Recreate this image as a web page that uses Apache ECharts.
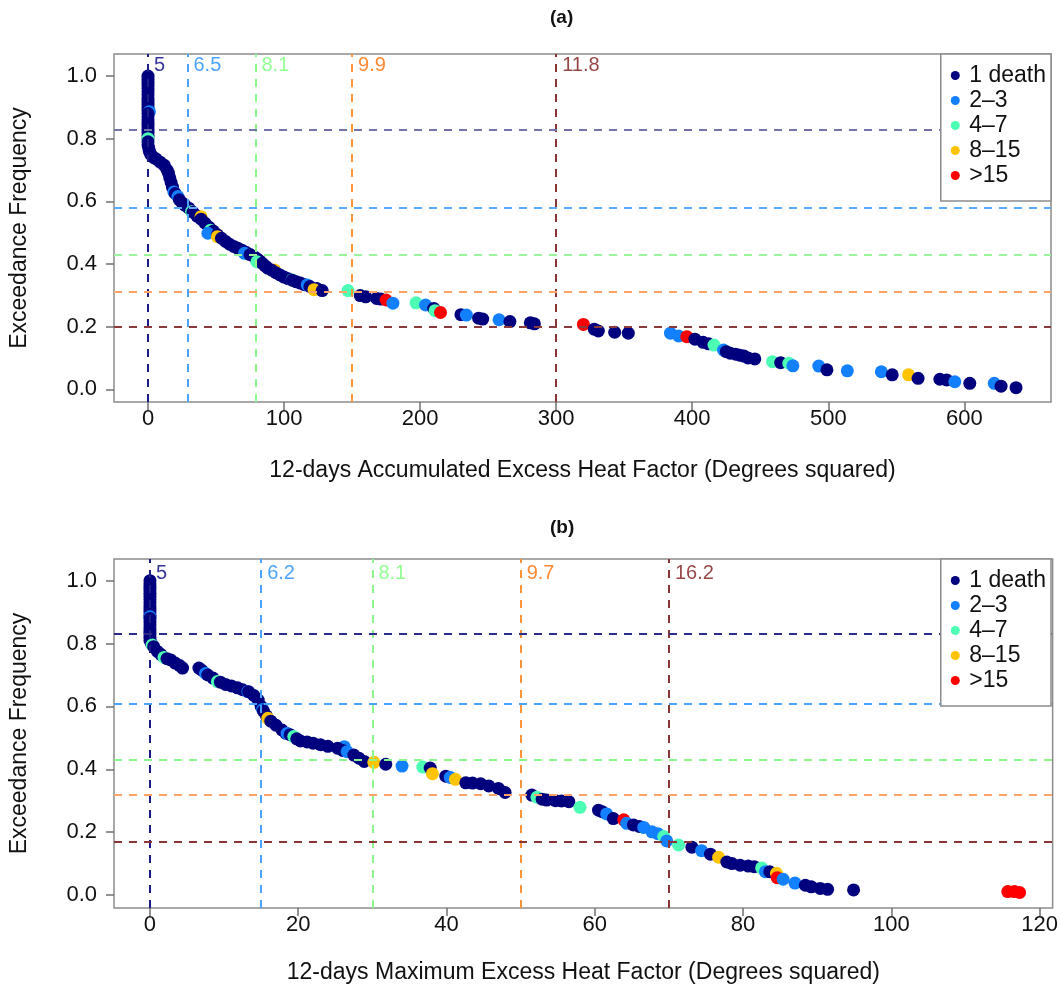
<!DOCTYPE html>
<html>
<head>
<meta charset="utf-8">
<script src="https://cdn.jsdelivr.net/npm/echarts@6/dist/echarts.min.js"></script>
<style>
html,body{margin:0;padding:0;background:#fff;}
#chart{width:1061px;height:988px;}
</style>
</head>
<body>
<div id="chart"></div>
<script>
// ---------- categories ----------
const categories = ['1 death', '2\u20133', '4\u20137', '8\u201315', '>15'];
const catColors = ['#00007F', '#1380FF', '#4CFFB4', '#FFC300', '#FF0000'];

// ---------- panel (a): 12-days Accumulated EHF ----------
const a_death1 = [
  [0,1.00],[0,0.99],[0,0.98],[0,0.97],[0,0.96],[0,0.95],[0,0.94],[0,0.93],[0,0.92],[0,0.91],
  [0,0.90],[0,0.89],[0,0.88],[0,0.87],[0,0.86],[0,0.85],[0,0.84],[0,0.83],[0,0.82],[0,0.81],
  [0,0.80],[0,0.79],[0,0.78],[0.5,0.77],[1,0.76],[2,0.75],
  [4,0.74],[6,0.735],[9,0.725],[12,0.715],[14,0.70],[15,0.69],[16,0.675],[17,0.66],[18,0.645],
  [20,0.625],[23,0.605],[25,0.595],[27,0.588],[30,0.578],[33,0.565],[36,0.553],[39,0.543],
  [42,0.53],[45,0.517],[48,0.505],[51,0.493],[54,0.482],[57,0.472],[60,0.463],[63,0.456],
  [66,0.45],[69,0.444],[72,0.437],[75,0.43],[78,0.423],[80,0.417],[82,0.41],[84,0.402],
  [86,0.394],[88,0.387],[91,0.38],[94,0.372],[97,0.365],[100,0.358],[103,0.353],[106,0.348],
  [109,0.343],[112,0.339],[115,0.334],[119,0.328],[124,0.322],[128,0.315],
  [156,0.299],[160,0.295],[168,0.29],[171,0.288],[210,0.258],[230,0.238],[243,0.227],
  [246,0.224],[266,0.216],[281,0.212],[284,0.209],[328,0.192],[331,0.186],[343,0.182],
  [353,0.179],[402,0.16],[408,0.15],[412,0.145],[425,0.12],[428,0.115],[432,0.112],
  [435,0.109],[438,0.106],[441,0.1],[446,0.097],[465,0.085],[499,0.062],[547,0.046],
  [566,0.035],[582,0.032],[587,0.03],[604,0.019],[627,0.01],[638,0.005]
];
const a_d2_3 = [
  [1,0.886],[19,0.63],[22,0.615],[44,0.498],[71,0.434],[117,0.333],[180,0.275],[204,0.269],
  [234,0.237],[258,0.222],[384,0.179],[390,0.17],[423,0.125],[474,0.075],[493,0.074],
  [514,0.059],[539,0.056],[593,0.024],[622,0.019]
];
const a_d4_7 = [
  [0,0.80],[32,0.567],[46,0.508],[80,0.407],[106,0.349],[147,0.315],[197,0.276],[211,0.251],
  [416,0.141],[459,0.088],[471,0.083]
];
const a_d8_15 = [[39,0.551],[51,0.487],[93,0.381],[122,0.318],[559,0.046]];
const a_gt15 = [[175,0.285],[215,0.245],[320,0.207],[396,0.168]];

const a_thrX = [0, 29, 79, 150, 300];
const a_thrLabels = ['5', '6.5', '8.1', '9.9', '11.8'];
const a_thrY = [0.833, 0.583, 0.432, 0.3115, 0.205];
const a_xTicks = [0, 100, 200, 300, 400, 500, 600];

// ---------- panel (b): 12-days Maximum EHF ----------
const b_death1 = [
  [0,1.00],[0,0.99],[0,0.98],[0,0.97],[0,0.96],[0,0.95],[0,0.94],[0,0.93],[0,0.92],[0,0.91],
  [0,0.90],[0,0.89],[0,0.88],[0,0.87],[0,0.86],[0,0.85],[0,0.84],[0,0.83],[0,0.82],[0,0.81],
  [0.2,0.80],[0.5,0.79],[1,0.775],[1.5,0.765],[2.3,0.752],[2.8,0.748],[3.4,0.738],[4.0,0.73],
  [4.4,0.722],
  [6.6,0.722],[7.0,0.715],[7.8,0.70],[8.5,0.69],[9.5,0.677],[10.2,0.67],[11,0.665],[11.8,0.659],
  [12.5,0.653],[13.3,0.647],[14,0.635],[14.6,0.62],[15,0.60],[15.3,0.585],[15.7,0.57],
  [16.3,0.553],[17,0.54],[17.8,0.525],[18.3,0.515],[18.9,0.51],[19.8,0.497],[20.3,0.49],
  [21.2,0.487],[22,0.483],[23,0.478],[24,0.473],[25.3,0.467],[26,0.46],[27.5,0.445],
  [28.2,0.435],[28.9,0.425],[31.8,0.416],[37.8,0.404],[39.9,0.378],[42.6,0.357],[43.5,0.356],
  [44.6,0.354],[45.7,0.347],[47,0.339],[47.9,0.326],[51.5,0.318],[52.9,0.305],[53.5,0.302],
  [54.7,0.3],[55.5,0.299],[56.5,0.297],[60.5,0.27],[61,0.265],[62.5,0.243],[65.2,0.223],
  [66,0.218],[73.1,0.152],[75.6,0.13],[77.8,0.105],[78.5,0.1],[79.6,0.095],[80.7,0.092],
  [81.5,0.09],[83.6,0.074],[88.4,0.031],[89.2,0.026],[90.4,0.021],[91.4,0.018],[94.9,0.016]
];
const b_d2_3 = [
  [0,0.885],[7.5,0.705],[13.2,0.647],[15.2,0.59],[18.5,0.514],[26.2,0.472],[26.6,0.456],
  [34,0.41],[40.5,0.374],[61.6,0.258],[64.3,0.228],[66.6,0.215],[67.7,0.201],[68.5,0.195],
  [69.7,0.172],[74.4,0.141],[83,0.074],[85.4,0.05],[87,0.038]
];
const b_d4_7 = [
  [0.3,0.795],[1.9,0.756],[9.1,0.679],[19.4,0.504],[36.8,0.407],[52.2,0.311],[58,0.279],
  [69.3,0.186],[71.3,0.159],[82.5,0.086]
];
const b_d8_15 = [[15.9,0.562],[30.2,0.422],[38.1,0.386],[41.2,0.368],[76.7,0.12],[84.5,0.069]];
const b_gt15 = [[63.9,0.239],[84.6,0.055],[115.7,0.011],[116.6,0.011],[117.3,0.008]];

const b_thrX = [0, 15, 30, 50, 70];
const b_thrLabels = ['5', '6.2', '8.1', '9.7', '16.2'];
const b_thrY = [0.829, 0.612, 0.426, 0.321, 0.175];
const b_xTicks = [0, 20, 40, 60, 80, 100, 120];

const yTicks = [0, 0.2, 0.4, 0.6, 0.8, 1.0];

// ---------- styles ----------
const FONT = 'Liberation Sans, Arial, Helvetica, sans-serif';
const vLineColors = ['#1c1c86', '#4aa3ff', '#8cf58c', '#ff9538', '#8a3535'];
const labelColors = ['#00007F', '#1E8BFF', '#77FF77', '#FF6A00', '#7A1515'];
const a_hLineColors = ['#7474aa', '#5aaaff', '#9af59a', '#ffa468', '#8a3a3a'];
const b_hLineColors = ['#2c2c8c', '#4aa3ff', '#8cf58c', '#ffa468', '#8a3535'];
const dash = [8, 7];
const SYM = 13;

// Legend-carrying series (one per category) + one series holding all events,
// drawn in decreasing exceedance order (later events on top, as in the original plot).
function panelSeries(panel, datasets) {
  const legendSeries = categories.map((c, i) => ({
    name: c, type: 'scatter', xAxisIndex: panel, yAxisIndex: panel,
    data: [], symbolSize: SYM, itemStyle: { color: catColors[i], opacity: 1 }, silent: true
  }));
  const all = [];
  datasets.forEach((d, i) => d.forEach(p => all.push({ value: p, color: catColors[i] })));
  all.sort((p, q) => q.value[1] - p.value[1] || p.value[0] - q.value[0]);
  const events = {
    name: 'events' + panel, type: 'scatter', xAxisIndex: panel, yAxisIndex: panel,
    data: all.map(p => ({ value: p.value, itemStyle: { color: p.color, opacity: 1 } })),
    itemStyle: { opacity: 1 },
    symbolSize: SYM, z: 2, silent: true, progressive: 0
  };
  return [...legendSeries, events];
}

function thresholdSeries(panel, xs, labels, ys, hColors, labelY) {
  const mdata = [];
  xs.forEach((x, i) => mdata.push({ xAxis: x, lineStyle: { color: vLineColors[i], width: 2, type: dash } }));
  ys.forEach((y, i) => mdata.push({ yAxis: y, lineStyle: { color: hColors[i], width: 2, type: dash } }));
  return {
    name: 'thr' + panel,
    type: 'scatter',
    xAxisIndex: panel, yAxisIndex: panel,
    symbolSize: 0,
    silent: true,
    z: 3,
    data: xs.map((x, i) => ({
      value: [x, labelY],
      label: { show: true, position: 'right', distance: 6, formatter: labels[i], color: labelColors[i],
               fontSize: 20, fontFamily: FONT }
    })),
    markLine: { silent: true, z: 3, symbol: ['none', 'none'], label: { show: false }, animation: false, data: mdata }
  };
}

function xAxisDef(panel, min, max, ticks, name, gap) {
  return {
    type: 'value', gridIndex: panel, min: min, max: max,
    axisLine: { show: false, onZero: false },
    splitLine: { show: false },
    axisTick: { show: true, inside: false, length: 8, customValues: ticks, lineStyle: { color: '#707070', width: 1.5 } },
    axisLabel: { customValues: ticks, fontSize: 22, color: '#111', fontFamily: FONT, margin: 6 },
    name: name, nameLocation: 'middle', nameGap: gap,
    nameTextStyle: { fontSize: 23, color: '#111', fontFamily: FONT }
  };
}
function yAxisDef(panel, min, max) {
  return {
    type: 'value', gridIndex: panel, min: min, max: max,
    axisLine: { show: false, onZero: false },
    splitLine: { show: false },
    axisTick: { show: true, inside: false, length: 8, customValues: yTicks, lineStyle: { color: '#707070', width: 1.5 } },
    axisLabel: { customValues: yTicks, fontSize: 22, color: '#111', fontFamily: FONT, margin: 17,
                 formatter: v => v.toFixed(1) },
    name: 'Exceedance Frequency', nameLocation: 'middle', nameGap: 83,
    nameTextStyle: { fontSize: 23, color: '#111', fontFamily: FONT }
  };
}

function legendDef(top) {
  return {
    data: categories,
    orient: 'vertical',
    right: 10, top: top,
    icon: 'circle',
    itemWidth: 18, itemHeight: 9,
    itemGap: 2,
    padding: [10, 5, 14, 10],
    backgroundColor: '#ffffff',
    borderColor: '#8c8c8c', borderWidth: 1.5,
    itemStyle: { opacity: 1 },
    textStyle: { fontSize: 23, color: '#111', fontFamily: FONT, lineHeight: 23 },
    selectedMode: false,
    z: 10
  };
}

const chart = echarts.init(document.getElementById('chart'), null, { renderer: 'canvas' });
const option = {
  animation: false,
  backgroundColor: '#ffffff',
  title: [
    { text: '(a)', left: 545, top: 3, textStyle: { fontSize: 19, fontWeight: 'bold', color: '#111', fontFamily: FONT } },
    { text: '(b)', left: 545, top: 513, textStyle: { fontSize: 19, fontWeight: 'bold', color: '#111', fontFamily: FONT } }
  ],
  grid: [
    { left: 113, top: 54, width: 938, height: 348, show: true, borderColor: '#8c8c8c', borderWidth: 1.5, backgroundColor: 'transparent' },
    { left: 113, top: 559, width: 940, height: 349, show: true, borderColor: '#8c8c8c', borderWidth: 1.5, backgroundColor: 'transparent' }
  ],
  xAxis: [
    xAxisDef(0, -25, 663.7, a_xTicks, '12-days Accumulated Excess Heat Factor (Degrees squared)', 57),
    xAxisDef(1, -4.85, 121.75, b_xTicks, '12-days Maximum Excess Heat Factor (Degrees squared)', 53)
  ],
  yAxis: [
    yAxisDef(0, -0.0406, 1.0702),
    yAxisDef(1, -0.0414, 1.069)
  ],
  legend: [legendDef(54), legendDef(559)],
  series: [
    ...panelSeries(0, [a_death1, a_d2_3, a_d4_7, a_d8_15, a_gt15]),
    thresholdSeries(0, a_thrX, a_thrLabels, a_thrY, a_hLineColors, 1.035),
    ...panelSeries(1, [b_death1, b_d2_3, b_d4_7, b_d8_15, b_gt15]),
    thresholdSeries(1, b_thrX, b_thrLabels, b_thrY, b_hLineColors, 1.024)
  ]
};
chart.setOption(option);
</script>
</body>
</html>
